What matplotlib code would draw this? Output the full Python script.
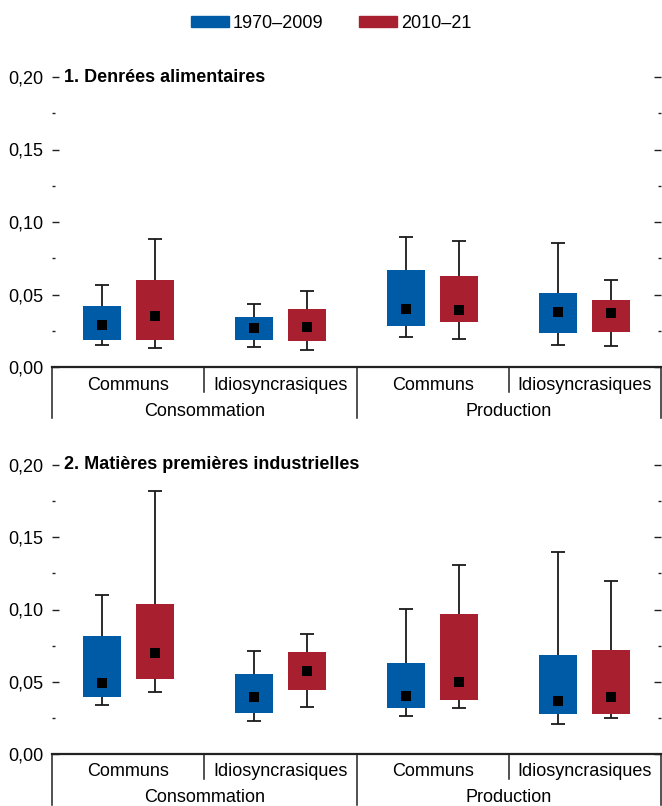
import matplotlib
matplotlib.use("Agg")
import matplotlib.pyplot as plt
from matplotlib.patches import Patch
from matplotlib.lines import Line2D
import matplotlib.transforms as mtransforms
import numpy as np

plt.rcParams['font.family'] = ['Liberation Sans', 'DejaVu Sans']

series = ["1970–2009", "2010–21"]
colors = ["#005BA6", "#A81F2F"]
subgroups = ["Communs", "Idiosyncrasiques", "Communs", "Idiosyncrasiques"]
groups = ["Consommation", "Production"]
panel_titles = ["1. Denrées alimentaires", "2. Matières premières industrielles"]

# Panel 1: [min, q1, median, q3, max] per subgroup, per series
p1_early = [[0.0149, 0.0186, 0.0292, 0.0420, 0.0566],
            [0.0138, 0.0186, 0.0267, 0.0343, 0.0434],
            [0.0204, 0.0283, 0.0401, 0.0670, 0.0900],
            [0.0150, 0.0234, 0.0378, 0.0510, 0.0854]]
p1_late = [[0.0133, 0.0186, 0.0354, 0.0600, 0.0885],
           [0.0115, 0.0179, 0.0278, 0.0400, 0.0524],
           [0.0195, 0.0310, 0.0392, 0.0629, 0.0868],
           [0.0146, 0.0241, 0.0371, 0.0462, 0.0600]]
# Panel 2
p2_early = [[0.0337, 0.0392, 0.0494, 0.0817, 0.1098],
            [0.0226, 0.0281, 0.0392, 0.0554, 0.0713],
            [0.0265, 0.0316, 0.0399, 0.0630, 0.1001],
            [0.0205, 0.0274, 0.0364, 0.0686, 0.1400]]
p2_late = [[0.0431, 0.0517, 0.0697, 0.1040, 0.1819],
           [0.0323, 0.0440, 0.0572, 0.0708, 0.0828],
           [0.0316, 0.0371, 0.0496, 0.0972, 0.1306],
           [0.0251, 0.0274, 0.0392, 0.0720, 0.1195]]

yticks = [0.00, 0.05, 0.10, 0.15, 0.20]

FS = 13
fig = plt.figure(figsize=(6.62, 8.06), dpi=100)
W, H = 662, 806
left, right = 52 / W, 661 / W
ax1 = fig.add_axes([left, 1 - 367 / H, right - left, (367 - 77) / H])
ax2 = fig.add_axes([left, 1 - 754 / H, right - left, (754 - 465) / H])

offset = 0.174
bw = 0.25
capw = 0.046

def draw(ax, early, late, title):
    for si, (data, col) in enumerate(zip([early, late], colors)):
        off = -offset if si == 0 else offset
        for i, (mn, q1, md, q3, mx) in enumerate(data):
            x = i + 0.5 + off
            ax.vlines(x, mn, mx, color="#1a1a1a", lw=1.3, zorder=1)
            ax.hlines([mn, mx], x - capw, x + capw, color="#1a1a1a", lw=1.3, zorder=1)
            ax.bar(x, q3 - q1, bottom=q1, width=bw, color=col, zorder=2)
            ax.scatter([x], [md], marker="s", s=62, color="black", zorder=3, linewidths=0)
    ax.set_xlim(0, 4)
    ax.set_ylim(0, 0.20)
    ax.set_yticks(yticks)
    ax.set_yticklabels([f"{v:.2f}".replace(".", ",") for v in yticks])
    ax.set_yticks([0.025, 0.075, 0.125, 0.175], minor=True)
    ax.set_xticks([])
    for s in ["left", "top", "right"]:
        ax.spines[s].set_visible(False)
    ax.spines["bottom"].set_linewidth(1.6)
    ax.spines["bottom"].set_color("#222222")
    ax.tick_params(axis="y", which="major", direction="in", length=5, width=1.0,
                   right=True, labelsize=FS, pad=6, color="#222222")
    ax.tick_params(axis="y", which="minor", direction="in", length=2.5, width=1.0,
                   right=True, color="#222222")
    ax.text(12 / 609, 1.0, title, transform=ax.transAxes, fontsize=FS,
            fontweight="bold", va="center", ha="left")
    trans = mtransforms.blended_transform_factory(ax.transData, ax.transAxes)
    hpx = ax.get_position().height * H
    for i, lab in enumerate(subgroups):
        ax.text(i + 0.5, -18 / hpx, lab, transform=trans, ha="center", va="center", fontsize=FS)
    for j, lab in enumerate(groups):
        ax.text(2 * j + 1, -44 / hpx, lab, transform=trans, ha="center", va="center", fontsize=FS)
    for xb in [0, 1, 2, 3, 4]:
        depth = 51 if xb % 2 == 0 else 25
        ax.add_line(Line2D([xb, xb], [0, -depth / hpx], transform=trans, color="#222222",
                           lw=1.1, clip_on=False))

draw(ax1, p1_early, p1_late, panel_titles[0])
draw(ax2, p2_early, p2_late, panel_titles[1])

handles = [Patch(color=c, label=l) for c, l in zip(colors, series)]
fig.legend(handles=handles, loc="center", bbox_to_anchor=(0.5, 1 - 23 / H), ncol=2,
           frameon=False, fontsize=FS, handlelength=2.1, handleheight=0.55,
           handletextpad=0.2, columnspacing=2.0)

fig.savefig("out.png", dpi=100)
